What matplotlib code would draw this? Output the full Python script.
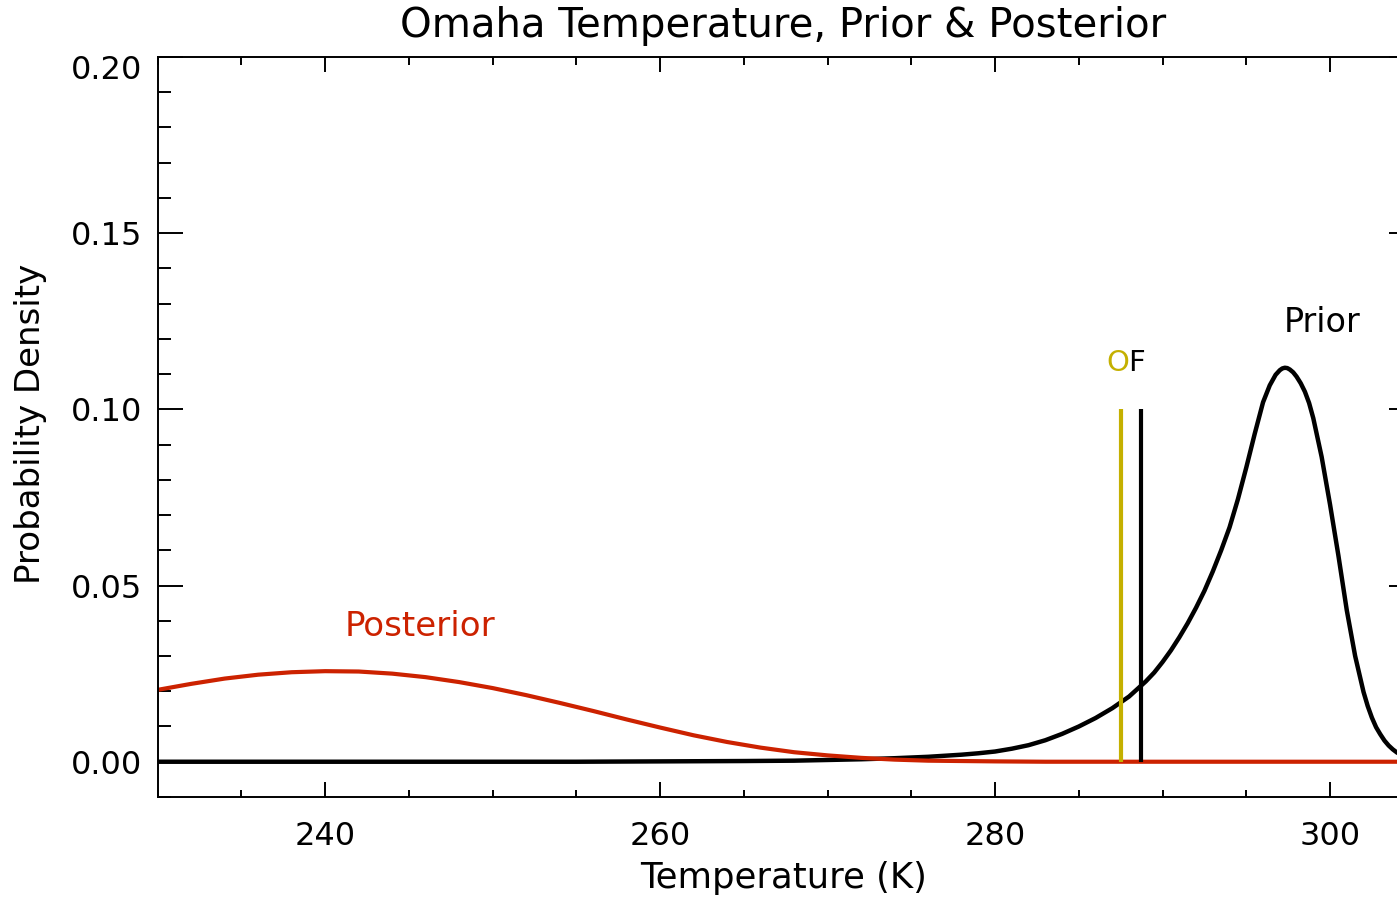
import matplotlib
matplotlib.use("Agg")
import matplotlib.pyplot as plt
from matplotlib.ticker import MultipleLocator, FormatStrFormatter
from matplotlib.transforms import ScaledTranslation

# Prior density of Omaha temperature (K)
prior_temp = [230, 255, 260, 265, 268, 270, 272, 274, 276, 278, 279, 280, 281,
              282, 283, 284, 285, 286, 287, 288, 289, 289.5, 290, 290.5, 291,
              291.5, 292, 292.5, 293, 293.5, 294, 294.5, 295, 295.5, 296, 296.4,
              296.75, 297.0, 297.15, 297.3, 297.45, 297.6, 297.8, 298, 298.25,
              298.5, 298.75, 299, 299.5, 300, 300.5, 301, 301.5, 302, 302.25,
              302.5, 302.75, 303, 303.25, 303.5, 303.75, 304, 304.5, 305]
prior_pdf = [0.0, 0.0, 0.0001, 0.0002, 0.0003, 0.0005, 0.0007, 0.0010, 0.0014,
             0.0020, 0.0024, 0.0029, 0.0037, 0.0047, 0.0061, 0.0079, 0.0100,
             0.0124, 0.0152, 0.0185, 0.0228, 0.0253, 0.0283, 0.0316, 0.0353,
             0.0393, 0.0437, 0.0485, 0.0540, 0.0600, 0.0665, 0.0745, 0.0835,
             0.0930, 0.1020, 0.1068, 0.1098, 0.1111, 0.1116, 0.1118, 0.1117,
             0.1113, 0.1105, 0.1093, 0.1074, 0.1050, 0.1018, 0.0975, 0.0865,
             0.0730, 0.0585, 0.0430, 0.0300, 0.0198, 0.0158, 0.0125, 0.0098,
             0.0078, 0.0060, 0.0046, 0.0035, 0.0026, 0.0014, 0.0007]

# Posterior density
post_temp = [230, 232, 234, 236, 238, 240, 242, 244, 246, 248, 250, 252, 254,
             256, 258, 260, 262, 264, 266, 268, 270, 272, 274, 276, 278, 280,
             283, 305]
post_pdf = [0.0204, 0.0221, 0.0236, 0.0247, 0.0254, 0.0257, 0.0256, 0.0250,
            0.0240, 0.0226, 0.0209, 0.0189, 0.0167, 0.0144, 0.0120, 0.0097,
            0.0075, 0.0056, 0.0040, 0.0027, 0.0018, 0.0011, 0.0006, 0.0003,
            0.0002, 0.0001, 0.0, 0.0]

# Observation (O) and forecast (F) temperatures
obs_temp = 287.53
fcst_temp = 288.70
marker_top = 0.10

x_ticks = [240, 260, 280, 300]
y_ticks = [0.00, 0.05, 0.10, 0.15, 0.20]

RED = "#CC2200"
OLIVE = "#C4B000"

fig = plt.figure(figsize=(13.97, 8.98), dpi=100)
ax = fig.add_axes([0.1129, 0.1125, 0.8991, 0.8241])

ax.plot(prior_temp, prior_pdf, color="black", lw=3.2, solid_joinstyle="round")
ax.plot(post_temp, post_pdf, color=RED, lw=3.0, solid_joinstyle="round")
ax.vlines(obs_temp, 0, marker_top, color=OLIVE, lw=3.0)
ax.vlines(fcst_temp, 0, marker_top, color="black", lw=3.0)

ax.text(obs_temp - 0.2, 0.1131, "O", color=OLIVE, fontsize=21, ha="center", va="center")
ax.text(fcst_temp - 0.25, 0.1131, "F", color="black", fontsize=21, ha="center", va="center")
ax.text(299.53, 0.1247, "Prior", color="black", fontsize=24, ha="center", va="center")
ax.text(245.67, 0.0383, "Posterior", color=RED, fontsize=24.5, ha="center", va="center")

ax.set_xlim(230, 305)
ax.set_ylim(-0.01, 0.20)
ax.set_xticks(x_ticks)
ax.set_yticks(y_ticks)
ax.xaxis.set_minor_locator(MultipleLocator(5))
ax.yaxis.set_minor_locator(MultipleLocator(0.01))
ax.yaxis.set_major_formatter(FormatStrFormatter("%.2f"))

for s in ax.spines.values():
    s.set_linewidth(1.4)

ax.tick_params(axis="y", which="major", direction="in", length=18, width=1.4,
               right=True, labelsize=23, pad=11)
ax.tick_params(axis="y", which="minor", direction="in", length=9, width=1.4, right=True)
ax.tick_params(axis="x", which="major", direction="in", length=10.8, width=1.4,
               top=True, labelsize=23, pad=17)
ax.tick_params(axis="x", which="minor", direction="in", length=5.4, width=1.4, top=True)

# Nudge the top y label down inside the frame
fig.canvas.draw()
for lbl in ax.get_yticklabels():
    if lbl.get_text() == "0.20":
        lbl.set_transform(lbl.get_transform() +
                          ScaledTranslation(0, -0.10, fig.dpi_scale_trans))

ax.text(0.498, 1.0420, "Omaha Temperature, Prior & Posterior", fontsize=29,
        ha="center", va="center", transform=ax.transAxes)
ax.set_xlabel("Temperature (K)", fontsize=25.5)
ax.xaxis.set_label_coords(0.498, -0.1095)
ax.xaxis.label.set_va("center")
ax.set_ylabel("Probability Density", fontsize=24.5)
ax.yaxis.set_label_coords(-0.1016, 0.5035)
ax.yaxis.label.set_va("center")

fig.savefig("out.png", dpi=100)
